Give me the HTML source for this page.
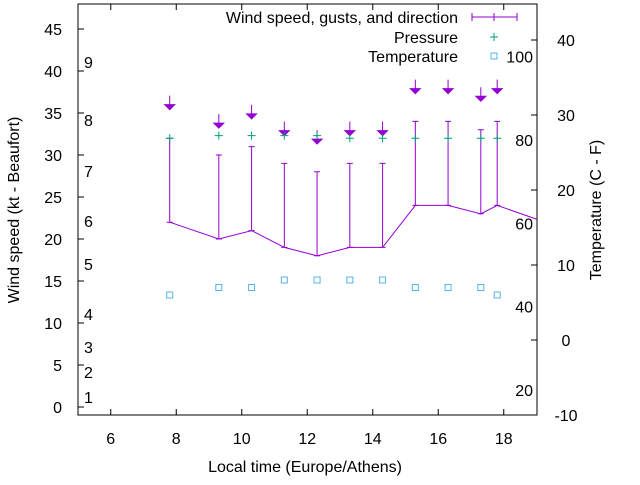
<!DOCTYPE html>
<html><head><meta charset="utf-8"><style>
body{margin:0;background:#fff}
svg{font-family:"Liberation Sans",sans-serif;font-size:16px}
</style></head><body>
<svg width="640" height="480" viewBox="0 0 640 480" id="c">
<defs><clipPath id="clip"><rect x="78" y="4" width="459" height="411"/></clipPath></defs>
<rect x="78" y="4" width="459" height="411" fill="none" stroke="#000"/>
<g id="axes"></g>
<g id="marks" clip-path="url(#clip)"></g>
<text x="15" y="210" transform="rotate(-90 15 210)" text-anchor="middle" dominant-baseline="middle">Wind speed (kt - Beaufort)</text>
<text x="597" y="210" transform="rotate(-90 597 210)" text-anchor="middle" dominant-baseline="middle">Temperature (C - F)</text>
<text x="305" y="472" text-anchor="middle">Local time (Europe/Athens)</text>
<g>
<text x="458" y="23" text-anchor="end">Wind speed, gusts, and direction</text>
<g stroke="#9400d3"><line x1="472" y1="17" x2="517" y2="17"/><line x1="472" y1="13" x2="472" y2="21"/><line x1="517" y1="13" x2="517" y2="21"/><line x1="494" y1="13" x2="494" y2="21"/></g>
<text x="458" y="43" text-anchor="end">Pressure</text>
<g stroke="#009e73"><line x1="490" y1="37" x2="498" y2="37"/><line x1="494" y1="33" x2="494" y2="41"/></g>
<text x="458" y="62" text-anchor="end">Temperature</text>
<rect x="491" y="53" width="6" height="6" fill="none" stroke="#56b4e9"/>
</g>
</svg>
<script>
const times=[7.8,9.3,10.3,11.3,12.3,13.3,14.3,15.3,16.3,17.3,17.8,20];
const speed=[22,20,21,19,18,19,19,24,24,23,24,21];
const gusts=[32,30,31,29,28,29,29,34,34,33,34];
const pressure=[32,32.3,32.3,32.3,32.3,32,32,32,32,32,32];
const temperature=[6,7,7,8,8,8,8,7,7,7,6];
const arrowLevel=[35.4,33.2,34.3,32.3,31.3,32.3,32.3,37.3,37.3,36.4,37.3];
const xTicks=[6,8,10,12,14,16,18];
const yTicks=[0,5,10,15,20,25,30,35,40,45];
const y2Ticks=[-10,0,10,20,30,40];
const beaufort=[[1,397],[2,372],[3,347],[4,314],[5,264],[6,221],[7,171],[8,120],[9,62]];
const fahr=[20,40,60,80,100];
const X=t=>78+(t-5)*32.75;
const Y=v=>407-v*8.4;
const Y2=c=>340-c*7.5;
const NS='http://www.w3.org/2000/svg';
const axes=document.getElementById('axes'),marks=document.getElementById('marks');
function mk(tag,attrs,parent){const e=document.createElementNS(NS,tag);for(const k in attrs)e.setAttribute(k,attrs[k]);parent.appendChild(e);return e;}
xTicks.forEach(t=>{const x=X(t);
const l=mk('path',{d:`M${x},415v-6M${x},4v6`,stroke:'#000'},axes);


const tx=mk('text',{x:x,y:444,'text-anchor':'middle'},axes);tx.textContent=t;

});
yTicks.forEach(v=>{const y=Y(v);
const l=mk('path',{d:`M78,${y}h6`,stroke:'#000'},axes);


const tx=mk('text',{x:62,y:y+6,'text-anchor':'end'},axes);tx.textContent=v;

});
y2Ticks.forEach(v=>{const y=Y2(v);
const l=mk('path',{d:`M537,${y}h-6`,stroke:'#000'},axes);


const tx=mk('text',{x:566,y:y+6,'text-anchor':'middle'},axes);tx.textContent=v;

});
beaufort.forEach(([b,y])=>{const tx=mk('text',{x:84,y:y+6},axes);tx.textContent=b;

});
fahr.forEach(f=>{const c=(f-32)/1.8;const tx=mk('text',{x:533,y:Y2(c)+6,'text-anchor':'end'},axes);tx.textContent=f;

});
const line=mk('polyline',{points:times.map((t,i)=>X(t)+','+Y(speed[i])).join(' '),fill:'none',stroke:'#9400d3'},marks);


gusts.forEach((g,i)=>{const x=X(times[i]);
const e=mk('path',{d:`M${x},${Y(speed[i])}V${Y(g)}M${x-3},${Y(g)}h6M${x-3},${Y(speed[i])}h6`,stroke:'#9400d3',fill:'none'},marks);


const ay=Y(arrowLevel[i]);
const a=mk('path',{d:`M${x},${ay-14}V${ay}M${x-5},${ay-5}L${x},${ay}L${x+5},${ay-5}Z`,stroke:'#9400d3',fill:'#9400d3'},marks);


const py=Y(pressure[i]);
const p=mk('path',{d:`M${x-4},${py}h8M${x},${py-4}v8`,stroke:'#009e73'},marks);


const ty=Y2(temperature[i]);
const s=mk('rect',{x:x-3,y:ty-3,width:6,height:6,fill:'none',stroke:'#56b4e9'},marks);

});
</script>
</body></html>
